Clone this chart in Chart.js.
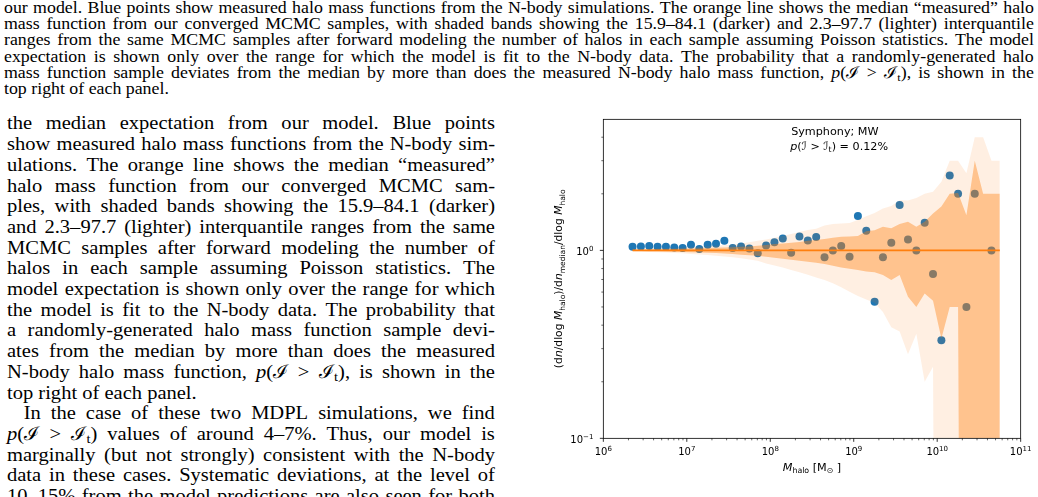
<!DOCTYPE html>
<html>
<head>
<meta charset="utf-8">
<script src="https://cdn.jsdelivr.net/npm/chart.js@4.4.1/dist/chart.umd.min.js"></script>
<style>
  html, body { margin: 0; padding: 0; background: #fff; }
  body { width: 1038px; height: 497px; overflow: hidden; position: relative; color: #000; }
  .txt { position: absolute; font-family: 'Liberation Serif', serif; transform-origin: 0 0; }
  #caption { left: 4px; top: 0; width: 1030px; font-size: 16px; line-height: 16.2px; }
  #column { left: 7px; top: 113.4px; width: 488px; font-size: 18.5px; line-height: 20.7px; }
  .j { display: flex; justify-content: space-between; white-space: nowrap; }
  .l { white-space: nowrap; }
  .ind { padding-left: 15px; }
  sub { font-size: 70%; vertical-align: -0.25em; line-height: 0; }
  #plot { position: absolute; left: 540px; top: 110px; width: 498px; height: 387px; }
</style>
</head>
<body>

<div id="caption" class="txt">
  <div class="j">our model. Blue points show measured halo mass functions from the N-body simulations. The orange line shows the median “measured” halo</div>
  <div class="j">mass function from our converged MCMC samples, with shaded bands showing the 15.9–84.1 (darker) and 2.3–97.7 (lighter) interquantile</div>
  <div class="j">ranges from the same MCMC samples after forward modeling the number of halos in each sample assuming Poisson statistics. The model</div>
  <div class="j">expectation is shown only over the range for which the model is fit to the N-body data. The probability that a randomly-generated halo</div>
  <div class="j">mass function sample deviates from the median by more than does the measured N-body halo mass function, <i>p</i>(ℐ &gt; ℐ<sub>t</sub>), is shown in the</div>
  <div class="l">top right of each panel.</div>
</div>

<div id="column" class="txt">
  <div class="j">the median expectation from our model. Blue points</div>
  <div class="j">show measured halo mass functions from the N-body sim-</div>
  <div class="j">ulations. The orange line shows the median “measured”</div>
  <div class="j">halo mass function from our converged MCMC sam-</div>
  <div class="j">ples, with shaded bands showing the 15.9–84.1 (darker)</div>
  <div class="j">and 2.3–97.7 (lighter) interquantile ranges from the same</div>
  <div class="j">MCMC samples after forward modeling the number of</div>
  <div class="j">halos in each sample assuming Poisson statistics. The</div>
  <div class="j">model expectation is shown only over the range for which</div>
  <div class="j">the model is fit to the N-body data. The probability that</div>
  <div class="j">a randomly-generated halo mass function sample devi-</div>
  <div class="j">ates from the median by more than does the measured</div>
  <div class="j">N-body halo mass function, <i>p</i>(ℐ &gt; ℐ<sub>t</sub>), is shown in the</div>
  <div class="l">top right of each panel.</div>
  <div class="j ind">In the case of these two MDPL simulations, we find</div>
  <div class="j"><i>p</i>(ℐ &gt; ℐ<sub>t</sub>) values of around 4–7%. Thus, our model is</div>
  <div class="j">marginally (but not strongly) consistent with the N-body</div>
  <div class="j">data in these cases. Systematic deviations, at the level of</div>
  <div class="j">10–15% from the model predictions are also seen for both</div>
</div>

<div id="plot"><canvas id="hmf"></canvas></div>

<script>
// bin centres, log10(M_halo / Msun)
const logMassBins = [6.35, 6.45, 6.55, 6.65, 6.75, 6.85, 6.95, 7.05, 7.15, 7.25,
                     7.35, 7.45, 7.55, 7.65, 7.75, 7.85, 7.95, 8.05, 8.15, 8.25,
                     8.35, 8.45, 8.55, 8.65, 8.75, 8.85, 8.95, 9.05, 9.15, 9.25,
                     9.35, 9.45, 9.55, 9.65, 9.75, 9.85, 9.95, 10.05, 10.15, 10.25,
                     10.35, 10.45, 10.55, 10.65, 10.75];

// N-body HMF / median model (null = empty bin)
const nbodyRatio = [1.046, 1.050, 1.055, 1.044, 1.044, 1.036, 1.031, 1.072, 1.016, 1.072,
                    1.084, 1.125, 1.030, 1.050, 1.022, 0.964, 1.060, 1.103, 1.158, 0.971,
                    1.185, 1.130, 1.178, 0.918, 0.997, 1.056, 0.925, 1.522, 1.272, 0.533,
                    0.918, 1.098, 1.742, 1.144, 1.000, 1.403, 0.748, 0.333, 2.5, 2.0,
                    0.5, 2.0, null, 1.0, null];

const medianRatio = [1, 1, 1, 1, 1, 1, 1, 1, 1, 1,
                     1, 1, 1, 1, 1, 1, 1, 1, 1, 1,
                     1, 1, 1, 1, 1, 1, 1, 1, 1, 1,
                     1, 1, 1, 1, 1, 1, 1, 1, 1, 1,
                     1, 1, 1, 1, 1];

// 2.3 - 97.7 quantiles (lighter band)
const q023 = [0.985, 0.983, 0.980, 0.977, 0.973, 0.969, 0.964, 0.958, 0.952, 0.945,
              0.937, 0.928, 0.918, 0.907, 0.895, 0.881, 0.852, 0.831, 0.812, 0.786,
              0.764, 0.742, 0.718, 0.695, 0.668, 0.636, 0.602, 0.571, 0.548, 0.526,
              0.47, 0.39, 0.37, 0.28, 0.36, 0.20, 0.24, 0, 0, 0,
              0, 0, 0, 0, 0];
const q977 = [1.016, 1.018, 1.020, 1.023, 1.026, 1.030, 1.034, 1.039, 1.045, 1.051,
              1.058, 1.066, 1.075, 1.088, 1.105, 1.125, 1.144, 1.167, 1.191, 1.221,
              1.251, 1.282, 1.303, 1.358, 1.380, 1.392, 1.397, 1.449, 1.52, 1.58,
              1.67, 1.72, 1.85, 1.84, 1.90, 2.0, 2.05, 2.32, 3.0, 3.0,
              2.57, 4.0, 4.0, 3.0, 3.0];

// 15.9 - 84.1 quantiles (darker band)
const q159 = [0.992, 0.991, 0.989, 0.988, 0.986, 0.984, 0.981, 0.978, 0.975, 0.971,
              0.967, 0.962, 0.956, 0.949, 0.943, 0.936, 0.925, 0.914, 0.903, 0.892,
              0.881, 0.870, 0.860, 0.846, 0.829, 0.812, 0.799, 0.786, 0.773, 0.764,
              0.74, 0.695, 0.74, 0.567, 0.50, 0.59, 0.54, 0.34, 0.50, 0.50,
              0, 0, 0, 0, 0];
const q841 = [1.008, 1.009, 1.011, 1.013, 1.015, 1.017, 1.020, 1.023, 1.026, 1.029,
              1.032, 1.036, 1.040, 1.044, 1.050, 1.058, 1.067, 1.081, 1.089, 1.098,
              1.107, 1.125, 1.135, 1.149, 1.168, 1.182, 1.187, 1.192, 1.265, 1.278,
              1.335, 1.31, 1.38, 1.42, 1.335, 1.42, 1.57, 1.71, 2.0, 2.02,
              1.54, 3.0, 2.0, 2.0, 2.0];

const xTickExps = [6, 7, 8, 9, 10, 11];
const yTickVals = [0.1, 1];
const yTickExps = ['−1', '0'];
const panelName = 'Symphony; MW';
const pValue = '0.12%';

// typeset text: one flex line per printed line, scaled so the widest line fits
function fitBlock(block, targetW) {
  const fs = parseFloat(getComputedStyle(block).fontSize);
  const lines = [...block.querySelectorAll('.j')];
  lines.forEach(el => {
    el.innerHTML = el.innerHTML.trim().split(/\s+/).map(w => '<span>' + w + '</span>').join('');
  });
  block.style.width = '5000px';
  let need = 0;
  lines.forEach(el => {
    const spans = [...el.children];
    const pad = parseFloat(getComputedStyle(el).paddingLeft) || 0;
    const w = spans.reduce((s, sp) => s + sp.getBoundingClientRect().width, 0);
    need = Math.max(need, pad + w + (spans.length - 1) * 0.3 * fs);
  });
  const k = targetW / need;
  block.style.width = (targetW / k) + 'px';
  block.style.transform = 'scaleX(' + k + ')';
}
fitBlock(document.getElementById('caption'), 1030);
fitBlock(document.getElementById('column'), 488);

const mass = logMassBins.map(l => Math.pow(10, l));
// a quantile of 0 sits at -inf on the log axis: push it far below the frame
const pts = arr => arr.map((v, i) => ({ x: mass[i], y: v === null ? null : (v > 0 ? v : 1e-9) }));

const FONT = 'DejaVu Sans';
const FS = 11.2;   // labels and annotation
const FT = 10;     // tick labels

function drawRich(ctx, segs, x, y, align, size) {
  const fontOf = s => (s.it ? 'italic ' : '') + ((s.sub || s.sup) ? size * 0.7 : size) + 'px "' + FONT + '"';
  let w = 0;
  segs.forEach(s => { ctx.font = fontOf(s); s.w = ctx.measureText(s.t).width; w += s.w; });
  let cx = align === 'center' ? x - w / 2 : align === 'right' ? x - w : x;
  ctx.textAlign = 'left';
  ctx.textBaseline = 'alphabetic';
  segs.forEach(s => {
    ctx.font = fontOf(s);
    const dy = s.sub ? size * 0.22 : s.sup ? -size * 0.42 : 0;
    ctx.fillText(s.t, cx, y + dy);
    cx += s.w;
  });
}

const axesDecor = {
  id: 'axesDecor',
  afterDatasetsDraw(chart) {
    const { ctx, chartArea: a, scales: { x, y } } = chart;
    ctx.save();
    ctx.strokeStyle = '#000';
    ctx.fillStyle = '#000';

    // tick marks (outward), majors then minors
    ctx.lineWidth = 0.8;
    ctx.beginPath();
    xTickExps.forEach(e => {
      const px = x.getPixelForValue(Math.pow(10, e));
      ctx.moveTo(px, a.bottom); ctx.lineTo(px, a.bottom + 3.5);
    });
    yTickVals.forEach(v => {
      const py = y.getPixelForValue(v);
      ctx.moveTo(a.left, py); ctx.lineTo(a.left - 3.5, py);
    });
    ctx.stroke();
    ctx.lineWidth = 0.6;
    ctx.beginPath();
    for (let e = 6; e < 11; e++) {
      for (let k = 2; k <= 9; k++) {
        const px = x.getPixelForValue(k * Math.pow(10, e));
        ctx.moveTo(px, a.bottom); ctx.lineTo(px, a.bottom + 2);
      }
    }
    for (let e = -1; e <= 0; e++) {
      for (let k = 2; k <= 9; k++) {
        const v = k * Math.pow(10, e);
        if (v > y.max) continue;
        const py = y.getPixelForValue(v);
        ctx.moveTo(a.left, py); ctx.lineTo(a.left - 2, py);
      }
    }
    ctx.stroke();

    // frame
    ctx.lineWidth = 0.8;
    ctx.strokeRect(a.left, a.top, a.right - a.left, a.bottom - a.top);

    // tick labels
    xTickExps.forEach(e => {
      drawRich(ctx, [{ t: '10' }, { t: String(e), sup: true }],
        x.getPixelForValue(Math.pow(10, e)), a.bottom + 16.7, 'center', FT);
    });
    yTickVals.forEach((v, i) => {
      drawRich(ctx, [{ t: '10' }, { t: yTickExps[i], sup: true }],
        a.left - 10, y.getPixelForValue(v) + 4.7, 'right', FT);
    });

    // axis titles
    drawRich(ctx, [
      { t: 'M', it: true }, { t: 'halo', sub: true }, { t: ' [M' }, { t: '⊙', sub: true }, { t: ' ]' }
    ], (a.left + a.right) / 2, a.bottom + 32.5, 'center', FS);

    ctx.save();
    ctx.translate(a.left - 41, (a.top + a.bottom) / 2);
    ctx.rotate(-Math.PI / 2);
    drawRich(ctx, [
      { t: '(d' }, { t: 'n', it: true }, { t: '/dlog ' }, { t: 'M', it: true }, { t: 'halo', sub: true },
      { t: ')/d' }, { t: 'n', it: true }, { t: 'median', sub: true },
      { t: '/dlog ' }, { t: 'M', it: true }, { t: 'halo', sub: true }
    ], 0, 0, 'center', FS * 0.96);
    ctx.restore();

    // panel annotation
    const tx = a.left + 0.45 * (a.right - a.left);
    drawRich(ctx, [{ t: panelName }], tx, a.top + 15.7, 'left', FS);
    drawRich(ctx, [
      { t: 'p', it: true }, { t: '(ℐ > ℐ' }, { t: 't', sub: true }, { t: ') = ' + pValue }
    ], tx - 1, a.top + 30.7, 'left', FS);

    ctx.restore();
  }
};

const lineBase = { borderWidth: 0, borderColor: 'transparent', pointRadius: 0, fill: false };

new Chart(document.getElementById('hmf').getContext('2d'), {
  type: 'line',
  data: {
    datasets: [
      { label: 'N-body', data: pts(nbodyRatio), showLine: false, pointRadius: 4,
        pointBackgroundColor: '#1f77b4', pointBorderWidth: 0, order: 6 },
      Object.assign({ label: 'q2.3', data: pts(q023), order: 5 }, lineBase),
      Object.assign({}, lineBase, { label: 'q97.7', data: pts(q977), order: 4,
        fill: { target: 1 }, backgroundColor: 'rgba(255,127,14,0.12)' }),
      Object.assign({ label: 'q15.9', data: pts(q159), order: 3 }, lineBase),
      Object.assign({}, lineBase, { label: 'q84.1', data: pts(q841), order: 2,
        fill: { target: 3 }, backgroundColor: 'rgba(255,127,14,0.4)' }),
      { label: 'median', data: pts(medianRatio), borderColor: '#ff7f0e', borderWidth: 1.6,
        pointRadius: 0, fill: false, order: 1 }
    ]
  },
  options: {
    responsive: true,
    maintainAspectRatio: false,
    animation: false,
    events: [],
    layout: { padding: { top: 9.33, right: 17.33, left: 0, bottom: 0 } },
    plugins: { legend: { display: false }, tooltip: { enabled: false } },
    scales: {
      x: {
        type: 'logarithmic', position: 'bottom', min: 1e6, max: 1e11,
        grid: { display: false, drawTicks: false },
        border: { display: false },
        ticks: { display: false },
        afterBuildTicks: s => { s.ticks = xTickExps.map(e => ({ value: Math.pow(10, e) })); },
        afterFit: s => { s.height = 58.67; s.paddingLeft = 0; s.paddingRight = 0; }
      },
      y: {
        type: 'logarithmic', position: 'left', min: 0.1, max: 4.98,
        grid: { display: false, drawTicks: false },
        border: { display: false },
        ticks: { display: false },
        afterBuildTicks: s => { s.ticks = yTickVals.map(v => ({ value: v })); },
        afterFit: s => { s.width = 63.33; s.paddingTop = 0; s.paddingBottom = 0; }
      }
    }
  },
  plugins: [axesDecor]
});
</script>
</body>
</html>
